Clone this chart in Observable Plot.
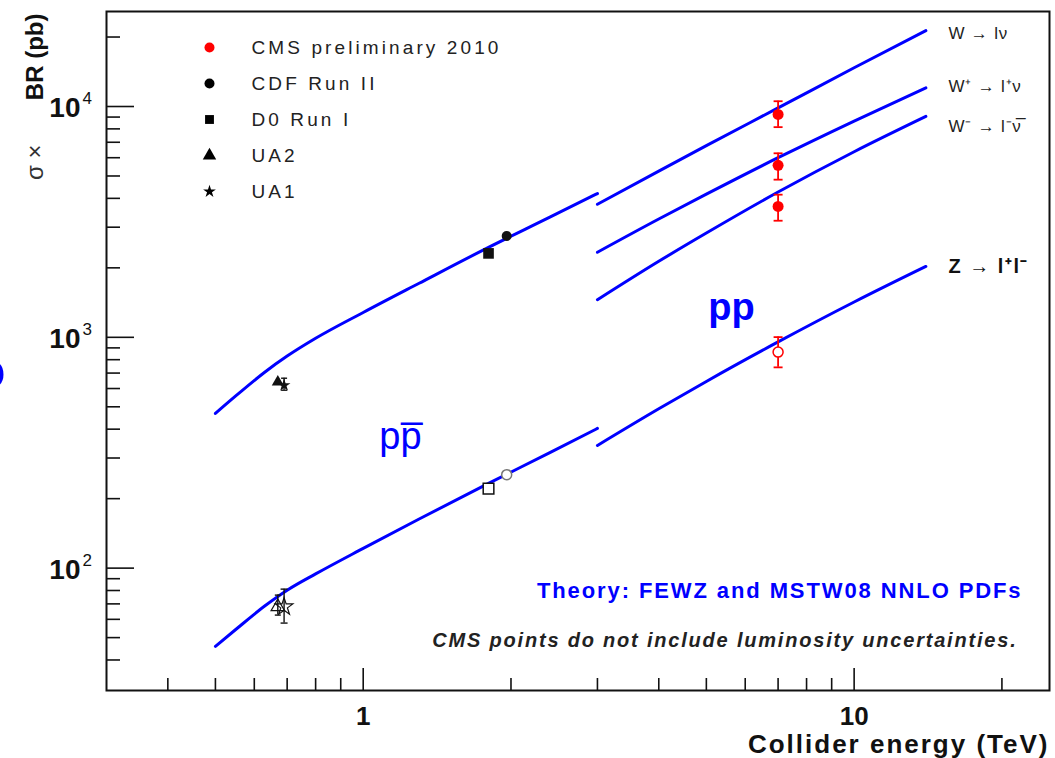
<!DOCTYPE html>
<html><head><meta charset="utf-8">
<script src="https://cdn.jsdelivr.net/npm/d3@7"></script>
<script src="https://cdn.jsdelivr.net/npm/@observablehq/plot@0.6"></script>
<style>
html,body{margin:0;padding:0;background:#fff;}
#chart svg{display:block;font-family:"Liberation Sans",Arial,Helvetica,sans-serif;overflow:hidden;}
text[aria-label="legend-text"]{letter-spacing:3.1px;}
text[aria-label="channel-label"]{letter-spacing:0.8px;}
text[aria-label="z-label"]{letter-spacing:1.5px;}
text[aria-label="theory-note"]{letter-spacing:1.9px;}
text[aria-label="lumi-note"]{letter-spacing:1.8px;}
text[aria-label="x-title"]{letter-spacing:2px;}
</style></head><body><div id="chart"></div>
<script>
// ---- theory curves (sigma x BR in pb) ----
const ppbarEnergy = [0.5, 0.55, 0.63, 0.7, 0.8, 1.0, 1.3, 1.8, 2.4, 3.0];
const wPPbar = [468, 557, 706, 829, 990, 1281, 1715, 2453, 3315, 4197];
const zPPbar = [45.8, 54.2, 68.5, 80.2, 94.4, 121.8, 163.2, 233, 316.5, 403];
const ppEnergy = [3, 4, 5, 7, 10, 14];
const wPP = [3770, 5250, 6770, 9860, 14720, 21330];
const wPlusPP = [2337, 3255, 4170, 6000, 8650, 12050];
const wMinusPP = [1455, 2135, 2830, 4260, 6370, 9060];
const zPP = [340, 490, 644, 955, 1422, 2028];

// ---- measurements ----
const cmsEnergy = [7, 7, 7];
const cmsW = [9236, 5560, 3690];
const cmsWLow = [8140, 4820, 3200];
const cmsWHigh = [10540, 6270, 4150];
const cmsZEnergy = [7];
const cmsZ = [863];
const cmsZLow = [741];
const cmsZHigh = [1002];
const cdfEnergy = [1.96];
const cdfW = [2749];
const cdfZ = [254];
const d0Energy = [1.8];
const d0W = [2310];
const d0Z = [221];
const ua2Energy = [0.67];
const ua2W = [640];
const ua2Z = [68];
const ua2ZLow = [62.6];
const ua2ZHigh = [76.4];
const ua1Energy = [0.69];
const ua1W = [620];
const ua1WLow = [590];
const ua1WHigh = [665];
const ua1Z = [68];
const ua1ZLow = [57.8];
const ua1ZHigh = [81.1];

// ---- legend / labels ----
const legendNames = ["CMS preliminary 2010", "CDF Run II", "D0 Run I", "UA2", "UA1"];
const legendSymbols = ["circle", "circle", "square", "triangle", "star"];
const legendColors = ["#ff0000", "#000000", "#000000", "#000000", "#000000"];
const channelLabels = ["W \u2192 l\u03bd", "W\u207a \u2192 l\u207a\u03bd", "W\u207b \u2192 l\u207b\u03bd\u0305"];
const zLabel = ["Z \u2192 l\u207al\u207b"];

// ---- axis ticks ----
const xMajor = [1, 10];
const xMinor = [0.4, 0.5, 0.6, 0.7, 0.8, 0.9, 2, 3, 4, 5, 6, 7, 8, 9, 20];
const yMajor = [100, 1000, 10000];
const yMinor = [40, 50, 60, 70, 80, 90, 200, 300, 400, 500, 600, 700, 800, 900,
                2000, 3000, 4000, 5000, 6000, 7000, 8000, 9000, 20000];

const W = 1055, H = 758;
const mL = 106, mR = 6, mT = 11, mB = 68;
const plotW = W - mL - mR, plotH = H - mT - mB;

const rows = (xs, ys, lo, hi) => xs.map((x, i) => ({x, y: ys[i], lo: lo ? lo[i] : null, hi: hi ? hi[i] : null}));
const blue = "#0000ff", red = "#ff0000";
const cap = {draw(ctx, size) { const r = Math.sqrt(size / Math.PI); ctx.moveTo(-r, 0); ctx.lineTo(r, 0); }};
const tag = (name) => () => name;

const curve = (xs, ys) => Plot.line(rows(xs, ys), {x: "x", y: "y", stroke: blue, strokeWidth: 3, curve: "monotone-x"});
const errBars = (data, color, w = 1.6, capR = 4) => [
  Plot.ruleX(data, {x: "x", y1: "lo", y2: "hi", stroke: color, strokeWidth: w}),
  Plot.dot(data, {x: "x", y: "lo", symbol: cap, r: capR, stroke: color, strokeWidth: w, fill: "none"}),
  Plot.dot(data, {x: "x", y: "hi", symbol: cap, r: capR, stroke: color, strokeWidth: w, fill: "none"})
];

const legendMarks = legendNames.flatMap((name, i) => [
  Plot.dot([name], {frameAnchor: "top-left", dx: 103, dy: 36 + i * 36, symbol: legendSymbols[i],
    r: legendSymbols[i] === "star" ? 4 : 5, fill: legendColors[i], stroke: "none"}),
  Plot.text([name], {frameAnchor: "top-left", dx: 145, dy: 36 + i * 36, textAnchor: "start", lineAnchor: "middle",
    fontSize: 19, fill: "#222", ariaLabel: tag("legend-text")})
]);

const chart = Plot.plot({
  width: W, height: H,
  marginLeft: mL, marginRight: mR, marginTop: mT, marginBottom: mB,
  x: {type: "log", domain: [0.3, 25], axis: null},
  y: {type: "log", domain: [29.5, 25800], axis: null},
  marks: [
    // ticks
    Plot.ruleY(yMajor, {y: d => d, insetRight: plotW - 28, stroke: "#111", strokeWidth: 1.6}),
    Plot.ruleY(yMinor, {y: d => d, insetRight: plotW - 14, stroke: "#111", strokeWidth: 1.6}),
    Plot.ruleX(xMajor, {x: d => d, insetTop: plotH - 22, stroke: "#111", strokeWidth: 1.6}),
    Plot.ruleX(xMinor, {x: d => d, insetTop: plotH - 12, stroke: "#111", strokeWidth: 1.6}),
    Plot.frame({stroke: "#111", strokeWidth: 2}),
    // tick labels
    Plot.text(xMajor, {x: d => d, frameAnchor: "bottom", dy: 26, lineAnchor: "middle", textAnchor: "middle", text: d => String(d), fontSize: 26, fontWeight: "bold", fill: "#111"}),
    Plot.text(yMajor, {y: d => d, frameAnchor: "left", dx: -26, dy: 2, lineAnchor: "middle", text: () => "10", textAnchor: "end", fontSize: 28, fontWeight: "bold", fill: "#111"}),
    Plot.text(yMajor, {y: d => d, frameAnchor: "left", dx: -24, dy: -8, lineAnchor: "middle", text: d => String(Math.round(Math.log10(d))), textAnchor: "start", fontSize: 17, fill: "#111"}),
    // axis titles
    Plot.text(["Collider energy (TeV)"], {frameAnchor: "bottom-right", dx: 0, dy: 54, textAnchor: "end", lineAnchor: "middle", fontSize: 26, fontWeight: "bold", fill: "#111", ariaLabel: tag("x-title")}),
    Plot.text(["BR (pb)"], {frameAnchor: "top-left", dx: -71, dy: 2, rotate: -90, textAnchor: "end", lineAnchor: "middle", fontSize: 24, fontWeight: "bold", fill: "#111"}),
    Plot.text(["\u03c3 \u00d7"], {frameAnchor: "top-left", dx: -71, dy: 133, rotate: -90, textAnchor: "end", lineAnchor: "middle", fontSize: 24, fill: "#333"}),
    // theory curves
    curve(ppbarEnergy, wPPbar),
    curve(ppbarEnergy, zPPbar),
    curve(ppEnergy, wPP),
    curve(ppEnergy, wPlusPP),
    curve(ppEnergy, wMinusPP),
    curve(ppEnergy, zPP),
    // error bars
    ...errBars(rows(cmsEnergy, cmsW, cmsWLow, cmsWHigh), red, 1.8, 4.5),
    ...errBars(rows(cmsZEnergy, cmsZ, cmsZLow, cmsZHigh), red, 1.8, 4.5),
    ...errBars(rows(ua1Energy, ua1W, ua1WLow, ua1WHigh), "#111", 1.4, 3),
    ...errBars(rows(ua2Energy, ua2Z, ua2ZLow, ua2ZHigh), "#111", 1.4, 3),
    ...errBars(rows(ua1Energy, ua1Z, ua1ZLow, ua1ZHigh), "#111", 1.4, 3.5),
    // measurements
    Plot.dot(rows(cmsEnergy, cmsW), {x: "x", y: "y", r: 5.5, fill: red}),
    Plot.dot(rows(cmsZEnergy, cmsZ), {x: "x", y: "y", r: 5, fill: "white", stroke: red, strokeWidth: 1.5}),
    Plot.dot(rows(cdfEnergy, cdfW), {x: "x", y: "y", r: 5, fill: "#111"}),
    Plot.dot(rows(cdfEnergy, cdfZ), {x: "x", y: "y", r: 5, fill: "white", stroke: "#777", strokeWidth: 1.5}),
    Plot.dot(rows(d0Energy, d0W), {x: "x", y: "y", r: 6, symbol: "square", fill: "#111"}),
    Plot.dot(rows(d0Energy, d0Z), {x: "x", y: "y", r: 6, symbol: "square", fill: "white", stroke: "#111", strokeWidth: 1.5}),
    Plot.dot(rows(ua2Energy, ua2W), {x: "x", y: "y", r: 4.5, symbol: "triangle", fill: "#111"}),
    Plot.dot(rows(ua2Energy, ua2Z), {x: "x", y: "y", r: 5, symbol: "triangle", fill: "none", stroke: "#111", strokeWidth: 1.2}),
    Plot.dot(rows(ua1Energy, ua1W), {x: "x", y: "y", r: 4, symbol: "star", fill: "#111"}),
    Plot.dot(rows(ua1Energy, ua1Z), {x: "x", y: "y", r: 5.5, symbol: "star", fill: "none", stroke: "#111", strokeWidth: 1.2}),
    // legend
    ...legendMarks,
    // channel labels
    ...channelLabels.map((t, i) => Plot.text([t], {frameAnchor: "top-right", dx: -101, dy: [22, 75, 115][i], textAnchor: "start", lineAnchor: "middle", fontSize: 17, fill: "#222", ariaLabel: tag("channel-label")})),
    Plot.text(zLabel, {frameAnchor: "top-right", dx: -101, dy: 255, textAnchor: "start", lineAnchor: "middle", fontSize: 20, fontWeight: "bold", fill: "#111", ariaLabel: tag("z-label")}),
    // region labels
    Plot.text(["p" + "p\u0305"], {frameAnchor: "top-left", dx: 294, dy: 425, textAnchor: "middle", lineAnchor: "middle", fontSize: 38, fill: blue}),
    Plot.text(["pp"], {frameAnchor: "top-left", dx: 625, dy: 296, textAnchor: "middle", lineAnchor: "middle", fontSize: 38, fontWeight: "bold", fill: blue}),
    Plot.text(["o"], {frameAnchor: "left", dx: -101, dy: 20, textAnchor: "end", lineAnchor: "middle", fontSize: 52, fontWeight: "bold", fill: blue}),
    // notes
    Plot.text(["Theory: FEWZ and MSTW08 NNLO PDFs"], {frameAnchor: "bottom-right", dx: -27, dy: -100, textAnchor: "end", lineAnchor: "middle", fontSize: 22, fontWeight: "bold", fill: blue, ariaLabel: tag("theory-note")}),
    Plot.text(["CMS points do not include luminosity uncertainties."], {frameAnchor: "bottom-right", dx: -32, dy: -50, textAnchor: "end", lineAnchor: "middle", fontSize: 20, fontWeight: "bold", fontStyle: "italic", fill: "#222", ariaLabel: tag("lumi-note")})
  ]
});
document.getElementById("chart").appendChild(chart);
</script></body></html>
